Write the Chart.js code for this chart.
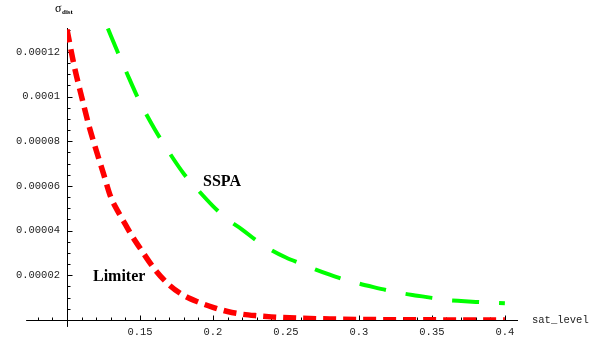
<!DOCTYPE html>
<html>
<head>
<meta charset="utf-8">
<script src="https://cdn.jsdelivr.net/npm/chart.js@4.4.0/dist/chart.umd.min.js"></script>
<style>
  html, body { margin: 0; padding: 0; background: #fff; }
  canvas { display: block; }
</style>
</head>
<body>
<canvas id="sat-chart" width="594" height="339"></canvas>
<script>
// Limiter curve: sat_level -> sigma_dist
const limiterLevels = [0.100, 0.105, 0.110, 0.115, 0.120, 0.125, 0.130, 0.135, 0.140, 0.145,
    0.150, 0.160, 0.170, 0.180, 0.190, 0.200, 0.210, 0.220, 0.230, 0.240,
    0.260, 0.280, 0.300, 0.320, 0.340, 0.360, 0.380, 0.400];
const limiterSigma = [0.0001300, 0.0001135, 0.0001000, 0.0000870, 0.0000760, 0.0000655, 0.0000550, 0.0000485, 0.0000428, 0.0000372,
    0.0000322, 0.0000228, 0.0000157, 0.0000110, 0.0000080, 0.0000057, 0.0000038, 0.0000026, 0.0000019, 0.0000014,
    0.0000008, 0.00000045, 0.00000025, 0.00000015, 0.00000008, 0.00000005, 0.00000003, 0.00000002];

// SSPA curve: sat_level -> sigma_dist
const sspaLevels = [0.128, 0.135, 0.140, 0.150, 0.160, 0.170, 0.180, 0.190, 0.200, 0.210,
    0.220, 0.230, 0.240, 0.250, 0.260, 0.270, 0.280, 0.290, 0.300, 0.310,
    0.320, 0.330, 0.340, 0.350, 0.360, 0.370, 0.380, 0.390, 0.400];
const sspaSigma = [0.0001305, 0.0001195, 0.0001120, 0.0000975, 0.0000855, 0.0000750, 0.0000655, 0.0000580, 0.0000510, 0.0000450,
    0.0000405, 0.0000355, 0.0000313, 0.0000280, 0.0000253, 0.0000227, 0.0000203, 0.0000181, 0.0000163, 0.0000147,
    0.0000132, 0.0000119, 0.0000109, 0.0000099, 0.0000090, 0.0000085, 0.0000081, 0.0000078, 0.0000075];

const xTickValues = [0.15, 0.2, 0.25, 0.3, 0.35, 0.4];
const yTickValues = [0.00002, 0.00004, 0.00006, 0.00008, 0.0001, 0.00012];

const seriesNames = ['Limiter', 'SSPA'];
// where the curve names sit, in data units
const nameAnchors = [[0.1178, 0.0000175], [0.1932, 0.0000600]];

const xMin = 0.1, xMax = 0.409;
const yMin = 0, yMax = 0.0001307;
const xAxisStart = 0.072;     // horizontal axis runs a bit left of the vertical one
const yAxisStart = -0.0000031;

const toPoints = (xs, ys) => xs.map((v, i) => ({ x: v, y: ys[i] }));

const tickFont = { family: 'Liberation Mono', size: 10.5 };

// Mathematica-style axes: crossing lines with inward ticks
const crossAxes = {
    id: 'crossAxes',
    beforeDatasetsDraw(chart) {
        const { ctx, scales: { x, y } } = chart;
        const x0 = Math.round(x.getPixelForValue(xMin)) + 0.5;
        const y0 = Math.round(y.getPixelForValue(0)) + 0.5;
        ctx.save();
        ctx.strokeStyle = '#000';
        ctx.lineWidth = 1;
        ctx.beginPath();
        ctx.moveTo(x.getPixelForValue(xAxisStart), y0);
        ctx.lineTo(x.right, y0);
        ctx.moveTo(x0, y.getPixelForValue(yAxisStart));
        ctx.lineTo(x0, y.top);
        for (let i = 8; i <= 40; i++) {
            const px = Math.round(x.getPixelForValue(i / 100)) + 0.5;
            const len = i % 5 === 0 ? 5 : 3;
            ctx.moveTo(px, y0);
            ctx.lineTo(px, y0 - len);
        }
        for (let i = 1; i <= 26; i++) {
            const py = Math.round(y.getPixelForValue(i * 0.000005)) + 0.5;
            const len = i % 4 === 0 ? 5 : 3;
            ctx.moveTo(x0, py);
            ctx.lineTo(x0 + len, py);
        }
        ctx.stroke();
        ctx.restore();
    },
    afterDraw(chart) {
        const { ctx, scales: { x, y } } = chart;
        const x0 = x.getPixelForValue(xMin);
        const y0 = y.getPixelForValue(0);
        ctx.save();
        ctx.fillStyle = '#222';
        ctx.textBaseline = 'middle';
        ctx.textAlign = 'left';
        ctx.font = '10.5px "Liberation Mono"';
        ctx.fillText('sat_level', x.right + 14, y0);

        // axis name sigma_dist
        ctx.textBaseline = 'alphabetic';
        ctx.fillStyle = '#000';
        ctx.font = '12px "Liberation Serif"';
        ctx.fillText('σ', x0 - 12, y.top - 16);
        ctx.font = 'bold 7px "Liberation Serif"';
        ctx.fillText('dist', x0 - 5, y.top - 14);

        // curve names
        ctx.font = 'bold 16px "Liberation Serif"';
        seriesNames.forEach((name, i) => {
            const [vx, vy] = nameAnchors[i];
            ctx.fillText(name, x.getPixelForValue(vx), y.getPixelForValue(vy));
        });
        ctx.restore();
    }
};

new Chart(document.getElementById('sat-chart'), {
    type: 'line',
    data: {
        datasets: [{
            label: seriesNames[0],
            data: toPoints(limiterLevels, limiterSigma),
            borderColor: '#ff0000',
            borderWidth: 5.5,
            borderDash: [13, 7],
            borderCapStyle: 'butt',
            pointRadius: 0,
            cubicInterpolationMode: 'monotone',
            fill: false
        }, {
            label: seriesNames[1],
            data: toPoints(sspaLevels, sspaSigma),
            borderColor: '#00ff00',
            borderWidth: 4,
            borderDash: [27, 20],
            borderCapStyle: 'butt',
            pointRadius: 0,
            cubicInterpolationMode: 'monotone',
            fill: false
        }]
    },
    options: {
        responsive: false,
        animation: false,
        layout: { padding: { top: 28, right: 76, left: 0, bottom: 0 } },
        plugins: {
            legend: { display: false },
            tooltip: { enabled: false }
        },
        scales: {
            x: {
                type: 'linear',
                min: xMin,
                max: xMax,
                grid: { display: false, drawTicks: false },
                border: { display: false },
                afterBuildTicks: (scale) => { scale.ticks = xTickValues.map(v => ({ value: v })); },
                afterFit: (scale) => { scale.height = 19; },
                ticks: {
                    font: tickFont,
                    color: '#222',
                    padding: 6,
                    maxRotation: 0,
                    autoSkip: false,
                    callback: (v) => String(Number(v.toFixed(2)))
                }
            },
            y: {
                type: 'linear',
                min: yMin,
                max: yMax,
                grid: { display: false, drawTicks: false },
                border: { display: false },
                afterBuildTicks: (scale) => { scale.ticks = yTickValues.map(v => ({ value: v })); },
                afterFit: (scale) => { scale.width = 67; },
                ticks: {
                    font: tickFont,
                    color: '#222',
                    padding: 7,
                    autoSkip: false,
                    callback: (v) => String(Number(v.toFixed(6)))
                }
            }
        }
    },
    plugins: [crossAxes]
});
</script>
</body>
</html>
